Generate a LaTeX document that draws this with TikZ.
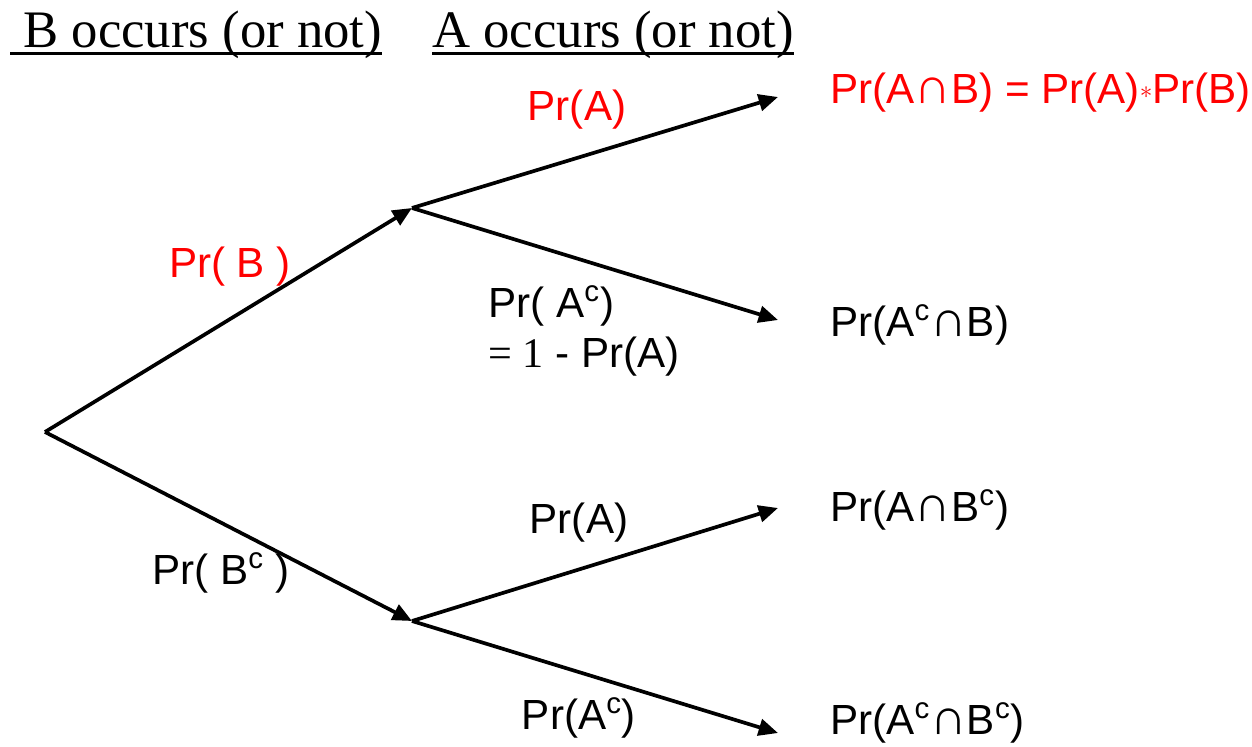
\documentclass[tikz,border=0pt]{standalone}
\usepackage{fontspec}
\setmainfont{Liberation Serif}
\setsansfont{Liberation Sans}
\usetikzlibrary{arrows.meta}

\newcommand{\capsym}{{\fontsize{29}{29}\selectfont ∩}}

\begin{document}
\begin{tikzpicture}[x=0.02cm, y=-0.02cm,
    branch/.style={line width=2.1pt, -{Triangle[length=11pt, width=9.5pt]}},
    prob/.style={font=\sffamily\fontsize{24}{29}\selectfont, inner sep=0pt},
    outcome/.style={prob, anchor=west},
    heading/.style={font=\rmfamily\fontsize{30}{34}\selectfont, inner sep=0pt, anchor=base west}]
  \useasboundingbox (0,0) rectangle (1252,747);

  % headings
  \node[heading] (headB) at (10,48) {\ B occurs (or not)};
  \node[heading] (headA) at (432,48) {A occurs (or not)};
  \draw[line width=1.8pt] ([yshift=-3pt]headB.base west) -- ([yshift=-3pt]headB.base east);
  \draw[line width=1.8pt] ([yshift=-3pt]headA.base west) -- ([yshift=-3pt]headA.base east);

  % tree points
  \coordinate (root) at (45,432);
  \coordinate (midB) at (412,208);
  \coordinate (midBc) at (412,621);
  \coordinate (endAB) at (778,97);
  \coordinate (endAcB) at (778,320);
  \coordinate (endABc) at (778,508);
  \coordinate (endAcBc) at (778,733);

  \draw[branch] (root) -- (midB);
  \draw[branch] (root) -- (midBc);
  \draw[branch] (midB) -- (endAB);
  \draw[branch] (midB) -- (endAcB);
  \draw[branch] (midBc) -- (endABc);
  \draw[branch] (midBc) -- (endAcBc);

  % branch probabilities
  \node[prob, text=red] (pB) at (230,267) {Pr( B )};
  \node[prob] (pBc) at (221,573) {Pr( B\textsuperscript{c} )};
  \node[prob, text=red] (pA1) at (577,110) {Pr(A)};
  \node[prob, anchor=west, align=left] (pAc1) at (488,331) {Pr( A\textsuperscript{c})\\{\rmfamily = 1} - Pr(A)};
  \node[prob] (pA2) at (579,523) {Pr(A)};
  \node[prob] (pAc2) at (579,718) {Pr(A\textsuperscript{c})};

  % outcomes
  \node[outcome, text=red] (oAB) at (830,93) {Pr(A\capsym B) = Pr(A)\raisebox{3.3pt}{\fontsize{14}{14}\selectfont$\ast$}Pr(B)};
  \node[outcome] (oAcB) at (830,325) {Pr(A\textsuperscript{c}\capsym B)};
  \node[outcome] (oABc) at (830,510) {Pr(A\capsym B\textsuperscript{c})};
  \node[outcome] (oAcBc) at (830,723) {Pr(A\textsuperscript{c}\capsym B\textsuperscript{c})};
\end{tikzpicture}
\end{document}
